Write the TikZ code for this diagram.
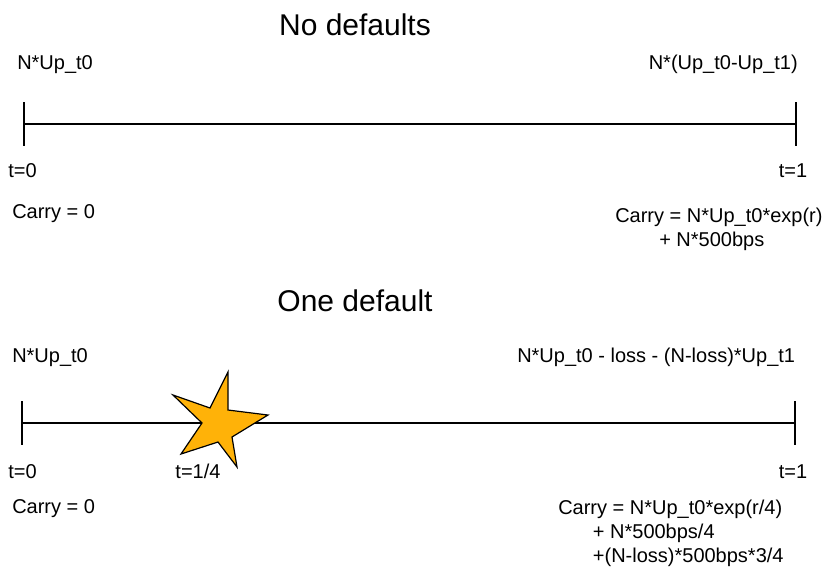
\documentclass[tikz,border=0pt]{standalone}
\usepackage{fontspec}
\setmainfont{Liberation Sans}
\usetikzlibrary{positioning}

\definecolor{starfill}{RGB}{255,178,8}

\tikzset{
  lbl/.style={inner sep=0pt, anchor=base west, font=\fontsize{15}{18}\selectfont},
  ttl/.style={inner sep=0pt, anchor=base, font=\fontsize{22.5}{27}\selectfont},
  tline/.style={line width=0.9pt},
  tick/.style={line width=1.3pt},
}

\begin{document}
\begin{tikzpicture}[x=0.75pt,y=-0.75pt]
\useasboundingbox (0,0) rectangle (830,572);

% no defaults
\node[ttl] (t1) at (355,35) {No defaults};
\node[lbl] (v0) at (17,69) {N*Up\_t0};
\node[lbl, anchor=base east] (v1) at (798,69) {N*(Up\_t0-Up\_t1)};

\coordinate (a0) at (24,124);
\coordinate (a1) at (796,124);
\draw[tline] (a0) -- (a1);
\draw[tick] (a0) ++(0,-22) -- ++(0,44);
\draw[tick] (a1) ++(0,-22) -- ++(0,44);

\node[lbl] (s0) at (8,177) {t=0};
\node[lbl, anchor=base] (s1) at (793,177) {t=1};

\node[lbl] (c0) at (12,218) {Carry = 0};
\node[lbl] (c1) at (615,222) {Carry = N*Up\_t0*exp(r)};
\node[lbl, xshift=33pt, yshift=-18pt] (c1b) at (c1.base west) {+ N*500bps};

% one default
\node[ttl] (t2) at (355,311) {One default};
\node[lbl] (w0) at (12,362) {N*Up\_t0};
\node[lbl] (w1) at (517,362) {N*Up\_t0 - loss - (N-loss)*Up\_t1};

\coordinate (b0) at (22,423);
\coordinate (b1) at (795,423);
\draw[tline] (b0) -- (b1);
\draw[tick] (b0) ++(0,-22) -- ++(0,44);
\draw[tick] (b1) ++(0,-22) -- ++(0,44);

% the default event
\draw[line width=0.9pt, line join=miter, fill=starfill]
  (228,372) -- (228,410) -- (268,415) -- (232,437) -- (237,467)
  -- (218,442) -- (181,454) -- (202,423) -- (173,395) -- (210,408) -- cycle;

\node[lbl] (r0) at (8,478) {t=0};
\node[lbl, anchor=base] (rq) at (198,478) {t=1/4};
\node[lbl, anchor=base] (r1) at (793,478) {t=1};

\node[lbl] (d0) at (12,513) {Carry = 0};
\node[lbl] (d1) at (558,514) {Carry = N*Up\_t0*exp(r/4)};
\node[lbl, xshift=26pt, yshift=-18pt] (d1b) at (d1.base west) {+ N*500bps/4};
\node[lbl, yshift=-18pt] (d1c) at (d1b.base west) {+(N-loss)*500bps*3/4};
\end{tikzpicture}
\end{document}
